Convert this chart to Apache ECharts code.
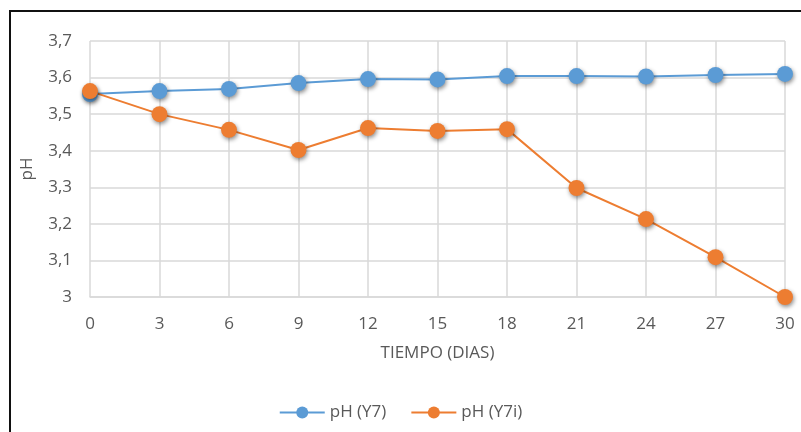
<!DOCTYPE html>
<html><head><meta charset="utf-8">
<script src="https://cdn.jsdelivr.net/npm/echarts@6/dist/echarts.min.js"></script>
<style>
html,body{margin:0;padding:0;background:#fff;overflow:hidden}
#frame{position:absolute;left:9px;top:10px;width:820px;height:450px;border:2px solid #111;box-sizing:border-box}
#c{position:absolute;left:0;top:0;width:801px;height:432px}
</style></head>
<body>
<div id="frame"></div>
<div id="c"></div>
<script>
var days = [0, 3, 6, 9, 12, 15, 18, 21, 24, 27, 30];
var phY7 = [3.555, 3.563, 3.569, 3.585, 3.596, 3.595, 3.604, 3.604, 3.603, 3.607, 3.61];
var phY7i = [3.563, 3.500, 3.457, 3.402, 3.462, 3.454, 3.459, 3.298, 3.213, 3.109, 3.0];
var seriesNames = ['pH (Y7)', 'pH (Y7i)'];
var colors = ['#5B9BD5', '#ED7D31'];

function pairs(v){ return days.map(function(d,i){ return [d, v[i]]; }); }
var font = '"Open Sans", "Liberation Sans", sans-serif';
var txt = '#595959';
var chart = echarts.init(document.getElementById('c'), null, {renderer:'canvas'});
function mk(name, vals, col){
  return {
    name: name, type: 'line', data: pairs(vals),
    symbol: 'circle', symbolSize: 16,
    lineStyle: {color: col, width: 2},
    itemStyle: {color: col, shadowColor: 'rgba(0,0,0,0.45)', shadowBlur: 4, shadowOffsetX: 1, shadowOffsetY: 2},
    emphasis: {disabled: true}, animation: false
  };
}
chart.setOption({
  animation: false,
  backgroundColor: 'transparent',
  grid: {left: 90, right: 16, top: 41, bottom: 135},
  xAxis: {
    type: 'value', min: 0, max: 30, interval: 3,
    name: 'TIEMPO (DIAS)', nameLocation: 'middle', nameGap: 48,
    nameTextStyle: {color: txt, fontSize: 17, fontFamily: font},
    axisLine: {show: true, lineStyle: {color: '#d9d9d9', width: 1.5}},
    axisTick: {show: false},
    axisLabel: {color: txt, fontSize: 17, fontFamily: font, margin: 19},
    splitLine: {show: true, lineStyle: {color: '#d9d9d9', width: 1.5}}
  },
  yAxis: {
    type: 'value', min: 3, max: 3.7, interval: 0.1,
    name: 'pH', nameLocation: 'middle', nameGap: 54, nameRotate: 90,
    nameTextStyle: {color: txt, fontSize: 17, fontFamily: font},
    axisLine: {show: false}, axisTick: {show: false},
    axisLabel: {color: txt, fontSize: 17, fontFamily: font, margin: 18,
      formatter: function(v){ return (Math.round(v*10)/10).toString().replace('.', ','); }},
    splitLine: {show: true, lineStyle: {color: '#d9d9d9', width: 1.5}}
  },
  legend: {
    bottom: 6, left: 'center', itemWidth: 45, itemHeight: 15, itemGap: 24,
    textStyle: {color: txt, fontSize: 17, fontFamily: font},
    data: seriesNames
  },
  series: [mk(seriesNames[0], phY7, colors[0]), mk(seriesNames[1], phY7i, colors[1])]
});
</script>
</body></html>
